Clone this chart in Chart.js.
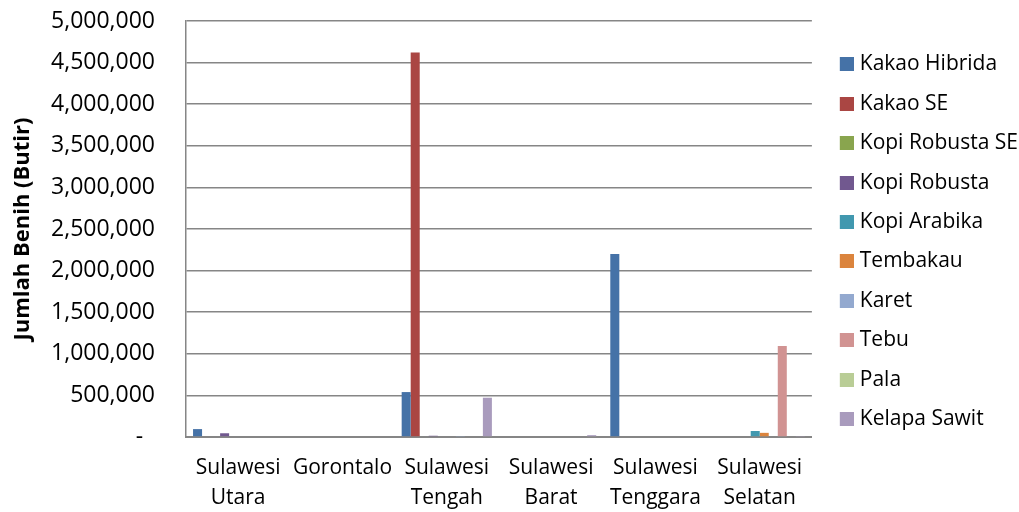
<!DOCTYPE html>
<html>
<head>
<meta charset="utf-8">
<script src="https://cdn.jsdelivr.net/npm/chart.js@4"></script>
<style>
  html, body { margin: 0; padding: 0; background: #ffffff; }
  #wrap { width: 1019px; height: 512px; }
</style>
</head>
<body>
<div id="wrap"><canvas id="chart" width="1019" height="512"></canvas></div>
<script>
// Provinces (x-axis categories)
const provinces = [
  ['Sulawesi', 'Utara'],
  'Gorontalo',
  ['Sulawesi', 'Tengah'],
  ['Sulawesi', 'Barat'],
  ['Sulawesi', 'Tenggara'],
  ['Sulawesi', 'Selatan']
];

// Seed counts (butir) per commodity, one value per province
const kakaoHibrida  = [95000, 0, 540000, 0, 2200000, 0];
const kakaoSE       = [0, 0, 4620000, 0, 0, 0];
const kopiRobustaSE = [0, 0, 0, 0, 0, 0];
const kopiRobusta   = [45000, 0, 15000, 0, 0, 0];
const kopiArabika   = [0, 0, 0, 0, 0, 72000];
const tembakau      = [0, 0, 0, 0, 0, 50000];
const karet         = [0, 0, 12000, 0, 0, 0];
const tebu          = [0, 0, 0, 0, 0, 1095000];
const pala          = [0, 0, 0, 0, 0, 0];
const kelapaSawit   = [0, 0, 472000, 22000, 0, 6000];

// Y-axis tick values
const yTicks = [0, 500000, 1000000, 1500000, 2000000, 2500000, 3000000, 3500000, 4000000, 4500000, 5000000];

const series = [
  { label: 'Kakao Hibrida',   data: kakaoHibrida,  color: '#4572A7' },
  { label: 'Kakao SE',        data: kakaoSE,       color: '#AA4643' },
  { label: 'Kopi Robusta SE', data: kopiRobustaSE, color: '#89A54E' },
  { label: 'Kopi Robusta',    data: kopiRobusta,   color: '#71588F' },
  { label: 'Kopi Arabika',    data: kopiArabika,   color: '#4198AF' },
  { label: 'Tembakau',        data: tembakau,      color: '#DB843D' },
  { label: 'Karet',           data: karet,         color: '#93A9CF' },
  { label: 'Tebu',            data: tebu,          color: '#D19392' },
  { label: 'Pala',            data: pala,          color: '#B9CD96' },
  { label: 'Kelapa Sawit',    data: kelapaSawit,   color: '#A99BBD' }
];

const FONT = '"Open Sans", "Noto Sans", sans-serif';
const GRID = '#868686';

// Legend key: a 14px square sitting in the right half of a 28px-wide sprite,
// so the swatch lands closer to its label text.
function legendSwatch(color) {
  const c = document.createElement('canvas');
  c.width = 28;
  c.height = 14;
  const g = c.getContext('2d');
  g.fillStyle = color;
  g.fillRect(14, 0, 14, 14);
  return c;
}
const swatches = series.map(s => legendSwatch(s.color));

new Chart(document.getElementById('chart'), {
  type: 'bar',
  data: {
    labels: provinces,
    datasets: series.map(s => ({
      label: s.label,
      data: s.data,
      backgroundColor: s.color,
      borderWidth: 0,
      categoryPercentage: 0.865,
      barPercentage: 1.0
    }))
  },
  options: {
    responsive: false,
    animation: false,
    layout: { padding: { top: 21, right: -9, left: 0, bottom: 0 } },
    plugins: {
      tooltip: { enabled: false },
      legend: {
        position: 'right',
        align: 'start',
        // blank spacer title pushes the key list down from the top edge
        title: {
          display: true,
          text: ' ',
          font: { family: FONT, size: 10, lineHeight: 1.25 },
          padding: { top: 1, bottom: 1 }
        },
        labels: {
          font: { family: FONT, size: 21 },
          color: '#000000',
          usePointStyle: true,
          pointStyleWidth: 19,
          boxWidth: 19,
          boxHeight: 14,
          padding: 18.4,
          generateLabels: chart => {
            const items = Chart.defaults.plugins.legend.labels.generateLabels(chart);
            items.forEach(it => { it.pointStyle = swatches[it.datasetIndex]; });
            return items;
          }
        }
      }
    },
    scales: {
      x: {
        grid: { display: false, drawTicks: false },
        border: { color: GRID, width: 2 },
        afterFit: s => { s.height = 75; },
        ticks: {
          font: { family: FONT, size: 21, lineHeight: 1.42 },
          color: '#000000',
          padding: 16,
          maxRotation: 0,
          autoSkip: false
        }
      },
      y: {
        min: 0,
        max: 5000000,
        afterBuildTicks: axis => { axis.ticks = yTicks.map(v => ({ value: v })); },
        afterFit: s => { s.width = 186; s.paddingTop = 0; s.paddingBottom = 0; },
        grid: { color: GRID, lineWidth: 1.5, drawTicks: false },
        border: { color: GRID, width: 1.5 },
        title: {
          display: true,
          text: 'Jumlah Benih (Butir)',
          font: { family: FONT, size: 22, weight: 'bold' },
          color: '#000000',
          padding: { top: 10, bottom: 0 }
        },
        ticks: {
          font: { family: FONT, size: 23 },
          color: '#000000',
          padding: 31,
          callback: v => v === 0 ? '-  ' : v.toLocaleString('en-US')
        }
      }
    }
  }
});
</script>
</body>
</html>
